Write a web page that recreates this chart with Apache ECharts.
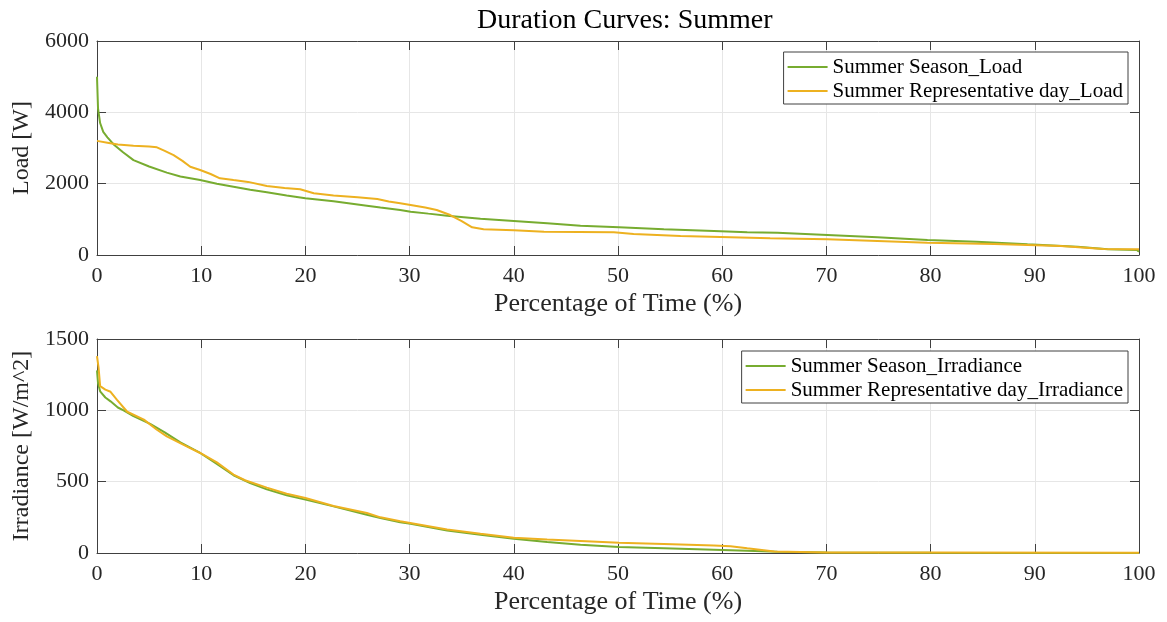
<!DOCTYPE html>
<html>
<head>
<meta charset="utf-8">
<script src="https://cdn.jsdelivr.net/npm/echarts@6/dist/echarts.min.js"></script>
<style>
html,body{margin:0;padding:0;background:#fff;}
#c{width:1167px;height:622px;}
</style>
</head>
<body>
<div id="c"></div>
<script>
// ---- data ----
const titleText = 'Duration Curves: Summer';
const xName = 'Percentage of Time (%)';
const loadName = 'Load [W]';
const irrName = 'Irradiance [W/m^2]';
const seriesNames = ['Summer Season_Load', 'Summer Representative day_Load',
                     'Summer Season_Irradiance', 'Summer Representative day_Irradiance'];

const loadSeasonX = [0,0.1,0.3,0.6,1.0,1.6,2.5,3.5,5.0,6.7,8.0,9.9,11.5,13.1,14.7,16.3,18.2,20.0,22.7,25.9,27.2,29.1,30.1,31.8,33.6,36.8,40.0,43.2,46.4,50.1,54.4,59.2,62.4,65.3,70.1,74.9,79.7,84.4,89.3,94.1,97.0,99.8,100];
const loadSeasonY = [5000,4100,3700,3450,3300,3100,2880,2660,2480,2310,2200,2100,2000,1915,1830,1757,1670,1590,1505,1383,1330,1262,1215,1160,1103,1019,953,888,822,776,720,673,640,625,561,496,421,374,300,234,160,140,90];

const loadDayX = [0,1.0,2.0,3.5,5.0,5.75,6.5,7.35,8.2,8.95,9.9,10.9,11.8,13.1,14.5,16.3,18.0,19.5,20.8,22.7,25.0,26.9,28.0,29.1,30.1,31.5,32.6,33.9,35.0,36.0,37.1,40.0,42.9,49.6,51.5,56.0,60.8,64.6,70.1,74.9,79.7,86.1,92.5,96.6,99.5,100];
const loadDayY = [3200,3150,3100,3060,3040,3020,2920,2800,2640,2476,2383,2271,2150,2100,2050,1935,1880,1842,1730,1665,1620,1570,1500,1450,1402,1330,1262,1121,950,776,720,692,654,636,589,533,496,468,440,393,346,308,252,168,160,160];

const irrSeasonX = [0,0.1,0.3,0.8,1.3,2.0,2.55,3.5,5.1,6.5,8.0,9.9,11.5,13.1,14.7,16.3,18.2,20.0,22.7,25.9,27.2,29.1,30.1,33.6,36.8,40.0,43.2,46.4,50.1,54.4,59.2,62.4,65.3,70,80,100];
const irrSeasonY = [1280,1190,1133,1090,1063,1020,1000,960,905,845,775,701,625,545,490,446,405,374,327,268,245,215,205,158,128,100,77,58,42,33,23,16,8,3,1,0];

const irrDayX = [0,0.15,0.3,0.8,1.3,1.9,2.9,4.5,5.75,6.7,8.6,9.9,11.5,13.1,14.2,16.3,18.2,20.0,22.7,25.9,27.2,29.1,33.6,36.8,40.0,43.2,46.4,50.1,54.4,59.2,60.8,62.4,65.0,70,80,100];
const irrDayY = [1380,1300,1170,1145,1130,1075,990,935,864,817,747,701,635,550,510,458,415,385,330,280,250,222,165,135,107,95,84,72,63,53,48,33,10,4,3,2];

const xTicks = [0,10,20,30,40,50,60,70,80,90,100];

// ---- chart ----
const zip = (xs, ys) => xs.map((x, i) => [x, ys[i]]);
const GREEN = '#77AC30', ORANGE = '#EDB120';
const FONT = 'Liberation Serif';
const AXC = '#404040';
const GRIDC = '#e6e6e6';

const grids = [
  {left: 97, right: 28, top: 41, height: 214, containLabel: false},
  {left: 97, right: 28, top: 339, height: 214, containLabel: false}
];

function xAxisMain(gi) {
  return {
    type: 'value', gridIndex: gi, min: xTicks[0], max: xTicks[xTicks.length - 1], interval: 10,
    name: xName, nameLocation: 'middle', nameGap: 36,
    nameTextStyle: {fontFamily: FONT, fontSize: 26, color: '#262626'},
    axisLine: {show: true, onZero: false, lineStyle: {color: AXC, width: 1}},
    axisTick: {show: true, inside: true, length: 9, lineStyle: {color: AXC}},
    axisLabel: {fontFamily: FONT, fontSize: 22, color: '#262626', margin: 10},
    splitLine: {show: true, lineStyle: {color: GRIDC, width: 1}}
  };
}
function xAxisTop(gi) {
  return {
    type: 'value', gridIndex: gi, position: 'top', min: 0, max: 100, interval: 10,
    axisLine: {show: true, onZero: false, lineStyle: {color: AXC, width: 1}},
    axisTick: {show: true, inside: true, length: 9, lineStyle: {color: AXC}},
    axisLabel: {show: false}, splitLine: {show: false}
  };
}
function yAxisMain(gi, max, interval, name) {
  return {
    type: 'value', gridIndex: gi, min: 0, max: max, interval: interval,
    name: name, nameLocation: 'middle', nameGap: 61,
    nameTextStyle: {fontFamily: FONT, fontSize: 24, color: '#262626'},
    axisLine: {show: true, onZero: false, lineStyle: {color: AXC, width: 1}},
    axisTick: {show: true, inside: true, length: 9, lineStyle: {color: AXC}},
    axisLabel: {fontFamily: FONT, fontSize: 22, color: '#262626', margin: 8,
                formatter: v => String(v)},
    splitLine: {show: true, lineStyle: {color: GRIDC, width: 1}}
  };
}
function yAxisRight(gi, max, interval) {
  return {
    type: 'value', gridIndex: gi, position: 'right', min: 0, max: max, interval: interval,
    axisLine: {show: true, onZero: false, lineStyle: {color: AXC, width: 1}},
    axisTick: {show: true, inside: true, length: 9, lineStyle: {color: AXC}},
    axisLabel: {show: false}, splitLine: {show: false}
  };
}

function lineSeries(name, data, color, xi, yi) {
  return {
    name: name, type: 'line', xAxisIndex: xi, yAxisIndex: yi, data: data,
    symbol: 'none', showSymbol: false, smooth: false,
    lineStyle: {color: color, width: 2}, itemStyle: {color: color},
    z: 3
  };
}

const legendCommon = {
  orient: 'vertical', right: 39, itemGap: 0, itemWidth: 40, itemHeight: 2,
  icon: 'rect',
  padding: [3, 5, 1, 4], borderColor: AXC, borderWidth: 1, backgroundColor: '#fff',
  textStyle: {fontFamily: FONT, fontSize: 21, color: '#000', lineHeight: 24},
  selectedMode: false
};

const option = {
  animation: false,
  backgroundColor: '#fff',
  title: {
    text: titleText, left: 472, top: 2,
    textStyle: {fontFamily: FONT, fontSize: 28, fontWeight: 'normal', color: '#000'}
  },
  grid: grids,
  xAxis: [xAxisMain(0), xAxisTop(0), xAxisMain(1), xAxisTop(1)],
  yAxis: [yAxisMain(0, 6000, 2000, loadName), yAxisRight(0, 6000, 2000),
          yAxisMain(1, 1500, 500, irrName), yAxisRight(1, 1500, 500)],
  legend: [
    Object.assign({}, legendCommon, {top: 52, data: [seriesNames[0], seriesNames[1]]}),
    Object.assign({}, legendCommon, {top: 351, data: [seriesNames[2], seriesNames[3]]})
  ],
  series: [
    lineSeries(seriesNames[0], zip(loadSeasonX, loadSeasonY), GREEN, 0, 0),
    lineSeries(seriesNames[1], zip(loadDayX, loadDayY), ORANGE, 0, 0),
    lineSeries(seriesNames[2], zip(irrSeasonX, irrSeasonY), GREEN, 2, 2),
    lineSeries(seriesNames[3], zip(irrDayX, irrDayY), ORANGE, 2, 2)
  ]
};

const chart = echarts.init(document.getElementById('c'), null, {renderer: 'canvas'});
chart.setOption(option);
</script>
</body>
</html>
